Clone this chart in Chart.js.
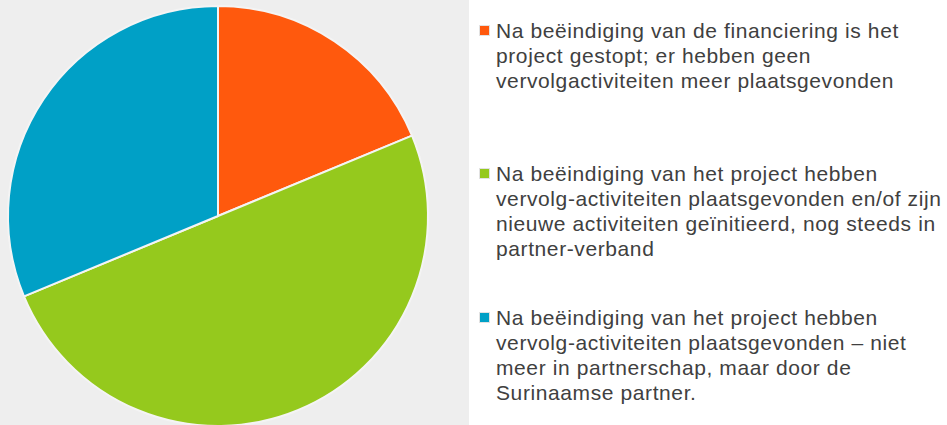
<!DOCTYPE html>
<html>
<head>
<meta charset="utf-8">
<script src="https://cdn.jsdelivr.net/npm/chart.js@4"></script>
<style>
    html, body { margin: 0; padding: 0; background: #ffffff; }
    #page { position: relative; width: 947px; height: 425px; overflow: hidden; }
    #pieBox { position: absolute; left: 0; top: 0; width: 469px; height: 425px; overflow: hidden; background: #eeeeee; }
    #pieBox canvas { display: block; }
    #legend { position: absolute; left: 0; top: 0; }
    .item { position: absolute; left: 496px; font-family: "Liberation Sans", Arial, sans-serif; font-size: 21px; letter-spacing: 0.6px; line-height: 25px; color: #404040; white-space: nowrap; }
    .item .box { position: absolute; left: -16px; top: 8px; width: 9px; height: 9px; outline: 1px solid #e2e2e2; }
</style>
</head>
<body>
<div id="page">
    <div id="pieBox"><canvas id="pieChart" width="469" height="432"></canvas></div>
    <div id="legend"></div>
</div>
<script>
// categories, one array of text lines per slice
const categories = [
    ['Na beëindiging van de financiering is het', 'project gestopt; er hebben geen', 'vervolgactiviteiten meer plaatsgevonden'],
    ['Na beëindiging van het project hebben', 'vervolg-activiteiten plaatsgevonden en/of zijn', 'nieuwe activiteiten geïnitieerd, nog steeds in', 'partner-verband'],
    ['Na beëindiging van het project hebben', 'vervolg-activiteiten plaatsgevonden – niet', 'meer in partnerschap, maar door de', 'Surinaamse partner.']
];
// number of projects per category
const counts = [6, 16, 10];
const sliceColors = ['#ff590d', '#95c91d', '#00a0c6'];

// legend item tops (layout only)
const legendTops = [18, 161, 305];

const ctx = document.getElementById('pieChart').getContext('2d');
const pieChart = new Chart(ctx, {
    type: 'pie',
    data: {
        labels: categories.map(lines => lines.join(' ')),
        datasets: [{
            data: counts,
            backgroundColor: sliceColors,
            borderColor: '#f4f4f4',
            borderWidth: 2
        }]
    },
    options: {
        responsive: false,
        animation: false,
        layout: {
            padding: { left: 7, right: 40, top: 5, bottom: 5 }
        },
        plugins: {
            legend: { display: false },
            tooltip: { enabled: false }
        }
    }
});

// HTML legend so the long labels wrap like the original
const legendEl = document.getElementById('legend');
categories.forEach((lines, i) => {
    const item = document.createElement('div');
    item.className = 'item';
    item.style.top = legendTops[i] + 'px';
    const box = document.createElement('span');
    box.className = 'box';
    box.style.background = sliceColors[i];
    item.appendChild(box);
    lines.forEach((line, j) => {
        if (j > 0) item.appendChild(document.createElement('br'));
        item.appendChild(document.createTextNode(line));
    });
    legendEl.appendChild(item);
});
</script>
</body>
</html>
